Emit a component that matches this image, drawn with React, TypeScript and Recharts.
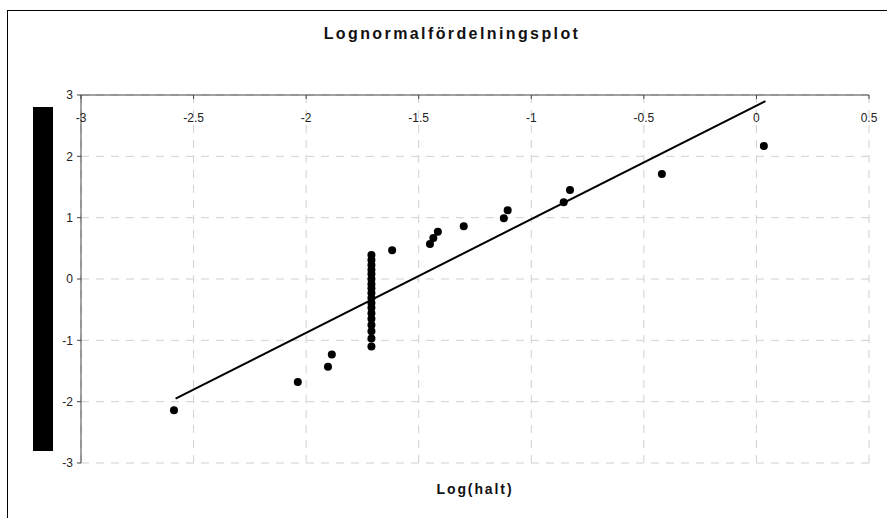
import {
  ScatterChart,
  Scatter,
  XAxis,
  YAxis,
  CartesianGrid,
} from 'recharts';

// log10 of measured concentration, sorted ascending
const logHalt = [
  -2.587, -2.037, -1.903, -1.886,
  -1.71, -1.71, -1.71, -1.71, -1.71, -1.71, -1.71, -1.71, -1.71,
  -1.71, -1.71, -1.71, -1.71, -1.71, -1.71, -1.71, -1.71, -1.71,
  -1.618, -1.45, -1.435, -1.415, -1.3, -1.122, -1.105, -0.856, -0.828, -0.42, 0.033,
];

// normal scores for each rank
const normScore = [
  -2.14, -1.68, -1.43, -1.23,
  -1.1, -0.97, -0.85, -0.75, -0.65, -0.56, -0.47, -0.39, -0.31,
  -0.23, -0.15, -0.08, 0.0, 0.08, 0.15, 0.23, 0.31, 0.39,
  0.47, 0.57, 0.67, 0.77, 0.86, 0.99, 1.12, 1.25, 1.45, 1.71, 2.17,
];

// fitted straight line end points
const fitX = [-2.58, 0.04];
const fitY = [-1.95, 2.9];

const xTicks = [-3, -2.5, -2, -1.5, -1, -0.5, 0, 0.5];
const yTicks = [-3, -2, -1, 0, 1, 2, 3];

const FONT = '"Liberation Sans", Arial, sans-serif';

const points = logHalt.map((x, i) => ({ x, y: normScore[i] }));
const fitLine = fitX.map((x, i) => ({ x, y: fitY[i] }));

export default function App() {
  return (
    <div
      style={{
        position: 'absolute',
        left: 0,
        top: 0,
        width: 887,
        height: 518,
        background: '#fff',
        fontFamily: FONT,
        overflow: 'hidden',
      }}
    >
      {/* chart frame, runs off the right and bottom edges */}
      <div
        style={{
          position: 'absolute',
          left: 7,
          top: 10,
          width: 900,
          height: 530,
          borderLeft: '1.5px solid #000',
          borderTop: '1.5px solid #000',
        }}
      />
      <div
        style={{
          position: 'absolute',
          left: 0,
          width: 904,
          top: 25,
          textAlign: 'center',
          fontWeight: 'bold',
          fontSize: 16,
          letterSpacing: 2.4,
          color: '#111',
        }}
      >
        Lognormalfördelningsplot
      </div>
      {/* y axis title block */}
      <div
        style={{
          position: 'absolute',
          left: 33,
          top: 107,
          width: 20,
          height: 344,
          background: '#000',
        }}
      />
      <div
        style={{
          position: 'absolute',
          left: 0,
          width: 950,
          top: 481,
          textAlign: 'center',
          fontWeight: 'bold',
          fontSize: 14,
          letterSpacing: 1.9,
          color: '#111',
        }}
      >
        Log(halt)
      </div>
      <div style={{ position: 'absolute', left: 0, top: 0 }}>
        <ScatterChart
          width={887}
          height={518}
          margin={{ top: 95, right: 18, bottom: 55, left: 40 }}
        >
          <CartesianGrid stroke="#d0d0d0" strokeDasharray="8 7" />
          <XAxis
            type="number"
            dataKey="x"
            orientation="top"
            mirror
            height={30}
            domain={[-3, 0.5]}
            ticks={xTicks}
            allowDataOverflow
            tickSize={4}
            tickMargin={14}
            axisLine={{ stroke: '#444' }}
            tickLine={{ stroke: '#444' }}
            tick={{ fontSize: 12, fill: '#222', fontFamily: FONT }}
          />
          <YAxis
            type="number"
            dataKey="y"
            width={41}
            domain={[-3, 3]}
            ticks={yTicks}
            allowDataOverflow
            tickSize={4}
            tickMargin={4}
            axisLine={{ stroke: '#444' }}
            tickLine={{ stroke: '#444' }}
            tick={{ fontSize: 12, fill: '#222', fontFamily: FONT }}
          />
          <Scatter
            data={fitLine}
            line={{ stroke: '#000', strokeWidth: 2 }}
            lineType="joint"
            shape={() => <g />}
            isAnimationActive={false}
          />
          <Scatter
            data={points}
            shape={(p: any) => <circle cx={p.cx} cy={p.cy} r={4} fill="#000" />}
            isAnimationActive={false}
          />
        </ScatterChart>
      </div>
    </div>
  );
}
